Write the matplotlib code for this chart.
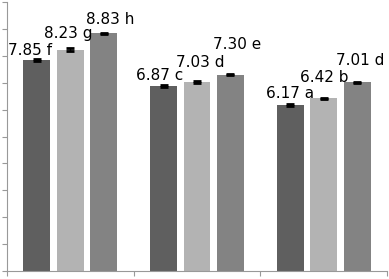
import matplotlib
matplotlib.use("Agg")
import matplotlib.pyplot as plt
import numpy as np

groups = ["G1", "G2", "G3"]
series_a = [7.85, 6.87, 6.17]
series_b = [8.23, 7.03, 6.42]
series_c = [8.83, 7.30, 7.01]
err_a = [0.04, 0.03, 0.05]
err_b = [0.06, 0.03, 0.02]
err_c = [0.03, 0.03, 0.02]
letters_a = ["f", "c", "a"]
letters_b = ["g", "d", "b"]
letters_c = ["h", "e", "d"]

# label offsets in pixels (dx from bar centre, dy above bar top)
off_a = [(-6.5, 5), (-3.5, 6), (0, 7)]
off_b = [(-2, 12), (3.5, 15), (0.5, 16)]
off_c = [(6, 9), (6.5, 26), (3, 17)]

colors = ["#5f5f5f", "#b3b3b3", "#838383"]

dpi = 100
fig = plt.figure(figsize=(3.89, 2.79), dpi=dpi)
ax = fig.add_axes([7/389, 8/279, 380/389, 269/279])

x = np.arange(len(groups))
width = 0.213
shift = 0.264
px2pt = 72 / dpi

for i, (vals, errs, lets, offs) in enumerate([
        (series_a, err_a, letters_a, off_a),
        (series_b, err_b, letters_b, off_b),
        (series_c, err_c, letters_c, off_c)]):
    xs = x + (i - 1) * shift
    ax.bar(xs, vals, width, color=colors[i], zorder=2)
    ax.errorbar(xs, vals, yerr=errs, fmt="none", ecolor="black",
                elinewidth=1.0, capsize=3.2, capthick=2.0, zorder=3)
    for xi, v, l, (dx, dy) in zip(xs, vals, lets, offs):
        ax.annotate(f"{v:.2f} {l}", (xi, v), xytext=(dx * px2pt, dy * px2pt),
                    textcoords="offset points", ha="center", va="baseline",
                    fontsize=11, family="DejaVu Sans", color="black")

ax.set_xlim(-0.5, 2.5)
ax.set_ylim(0, 10)
ax.set_yticks(np.arange(0, 11, 1))
ax.set_yticklabels([])
ax.set_xticks([-0.5, 0.5, 1.5, 2.5])
ax.set_xticklabels([])
ax.tick_params(axis="both", direction="out", length=3.6, width=0.8, color="#999999")
for s in ["top", "right"]:
    ax.spines[s].set_visible(False)
for s in ["left", "bottom"]:
    ax.spines[s].set_color("#999999")
    ax.spines[s].set_linewidth(0.8)

fig.savefig("out.png", dpi=dpi)
